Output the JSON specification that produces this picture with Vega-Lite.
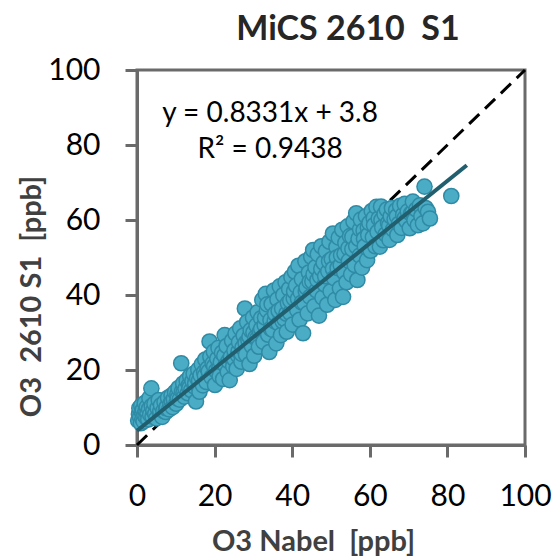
{
  "$schema": "https://vega.github.io/schema/vega-lite/v6.json",
  "autosize": "none",
  "width": 388,
  "height": 375,
  "padding": {"left": 137, "top": 70, "right": 31, "bottom": 111},
  "background": "white",
  "config": {
    "view": {"stroke": "#6a6a6a", "strokeWidth": 3},
    "font": "Lato",
    "axis": {
      "grid": false,
      "domainColor": "#6a6a6a",
      "domainWidth": 3,
      "tickColor": "#6a6a6a",
      "tickWidth": 3,
      "tickSize": 12,
      "labelFont": "Lato",
      "labelFontSize": 30,
      "labelColor": "#000000",
      "labelFlush": false,
      "labelOverlap": false,
      "titleFont": "Lato",
      "titleFontSize": 29,
      "titleFontWeight": "bold",
      "titleColor": "#404040",
      "titleBaseline": "alphabetic"
    }
  },
  "title": {
    "text": "MiCS 2610\u00a0 S1",
    "font": "Lato",
    "fontSize": 34,
    "fontWeight": "bold",
    "color": "#262626",
    "anchor": "middle",
    "frame": "group",
    "offset": 8,
    "dx": 17
  },
  "datasets": {
    "points": [
      {"x":0.3,"y":6.5},{"x":0.5,"y":8.2},{"x":0.6,"y":9.8},{"x":0.8,"y":7.4},{"x":1.0,"y":5.8},{"x":1.1,"y":10.5},{"x":1.2,"y":8.9},{"x":1.4,"y":7.0},{"x":1.5,"y":9.4},{"x":1.7,"y":6.3},{"x":1.9,"y":8.0},{"x":2.0,"y":11.2},{"x":2.2,"y":9.0},{"x":2.4,"y":7.3},{"x":2.5,"y":10.1},{"x":2.7,"y":8.5},{"x":2.9,"y":6.8},{"x":3.1,"y":9.6},{"x":3.2,"y":12.5},{"x":3.4,"y":8.1},{"x":3.7,"y":15.1},{"x":3.8,"y":10.4},{"x":4.0,"y":7.6},{"x":4.2,"y":9.2},{"x":4.5,"y":11.0},{"x":4.7,"y":8.3},
      {"x":5.0,"y":7.1},{"x":5.3,"y":9.9},{"x":5.6,"y":12.0},{"x":5.9,"y":8.4},{"x":6.0,"y":9.0},{"x":6.2,"y":10.6},{"x":6.5,"y":7.5},{"x":6.8,"y":9.1},{"x":7.1,"y":11.4},{"x":7.4,"y":8.8},{"x":7.5,"y":9.8},{"x":7.7,"y":10.2},{"x":8.0,"y":12.6},{"x":8.3,"y":9.5},{"x":8.6,"y":11.0},{"x":8.9,"y":13.2},{"x":9.0,"y":11.5},{"x":9.2,"y":10.1},{"x":9.5,"y":12.3},{"x":9.8,"y":14.1},
      {"x":10.1,"y":11.0},{"x":10.4,"y":13.5},{"x":10.5,"y":12.4},{"x":10.7,"y":15.2},{"x":11.0,"y":12.1},{"x":11.4,"y":21.8},{"x":11.6,"y":14.3},{"x":11.9,"y":16.4},{"x":12.0,"y":14.0},{"x":12.2,"y":12.9},{"x":12.5,"y":15.0},{"x":12.8,"y":17.2},{"x":13.1,"y":13.8},{"x":13.4,"y":16.0},{"x":13.5,"y":15.2},{"x":13.7,"y":18.4},{"x":14.0,"y":14.6},{"x":14.3,"y":17.1},{"x":14.6,"y":19.0},{"x":14.9,"y":15.5},
      {"x":15.0,"y":16.5},{"x":15.2,"y":11.6},{"x":15.5,"y":17.8},{"x":15.8,"y":20.1},{"x":16.0,"y":17.2},{"x":16.1,"y":14.2},{"x":16.4,"y":18.6},{"x":16.7,"y":21.5},{"x":17.0,"y":15.9},{"x":17.3,"y":19.4},{"x":17.5,"y":18.5},{"x":17.6,"y":22.8},{"x":17.9,"y":16.8},{"x":18.2,"y":20.4},{"x":18.5,"y":19.6},{"x":18.7,"y":27.6},{"x":18.9,"y":23.6},{"x":19.2,"y":18.1},{"x":19.5,"y":21.7},{"x":19.8,"y":24.9},{"x":19.9,"y":21.0},
      {"x":20.1,"y":16.0},{"x":20.4,"y":19.8},{"x":20.7,"y":23.0},{"x":21.0,"y":25.9},{"x":21.2,"y":20.5},{"x":21.3,"y":18.4},{"x":21.6,"y":22.1},{"x":21.9,"y":24.6},{"x":22.2,"y":17.6},{"x":22.5,"y":23.8},{"x":22.6,"y":29.3},{"x":22.8,"y":21.2},{"x":23.1,"y":26.4},{"x":23.4,"y":19.5},{"x":23.6,"y":22.4},{"x":23.9,"y":17.3},{"x":24.2,"y":23.5},{"x":24.5,"y":27.8},{"x":24.8,"y":21.0},
      {"x":25.0,"y":23.0},{"x":25.1,"y":25.2},{"x":25.4,"y":29.7},{"x":25.7,"y":20.3},{"x":26.0,"y":23.9},{"x":26.2,"y":25.0},{"x":26.3,"y":27.4},{"x":26.6,"y":31.1},{"x":26.9,"y":22.2},{"x":27.0,"y":24.3},{"x":27.2,"y":26.0},{"x":27.5,"y":29.2},{"x":27.8,"y":36.4},{"x":28.0,"y":27.2},{"x":28.1,"y":24.1},{"x":28.4,"y":32.8},{"x":28.7,"y":28.0},{"x":29.0,"y":21.6},{"x":29.0,"y":28.9},{"x":29.3,"y":30.6},{"x":29.6,"y":26.4},{"x":29.9,"y":34.0},
      {"x":30.0,"y":30.0},{"x":30.2,"y":23.8},{"x":30.5,"y":28.6},{"x":30.8,"y":31.9},{"x":31.0,"y":28.4},{"x":31.1,"y":35.4},{"x":31.4,"y":26.2},{"x":31.7,"y":30.3},{"x":32.0,"y":33.8},{"x":32.0,"y":31.0},{"x":32.3,"y":38.7},{"x":32.6,"y":27.5},{"x":32.9,"y":32.0},{"x":33.0,"y":34.0},{"x":33.2,"y":40.3},{"x":33.5,"y":35.9},{"x":33.6,"y":37.5},{"x":33.8,"y":29.4},{"x":34.1,"y":24.8},{"x":34.4,"y":33.3},{"x":34.5,"y":31.0},{"x":34.7,"y":37.6},
      {"x":35.0,"y":30.7},{"x":35.3,"y":41.2},{"x":35.5,"y":33.0},{"x":35.6,"y":35.0},{"x":35.9,"y":27.1},{"x":36.2,"y":38.8},{"x":36.5,"y":32.4},{"x":36.5,"y":35.8},{"x":36.8,"y":42.3},{"x":37.1,"y":29.3},{"x":37.4,"y":36.4},{"x":37.5,"y":33.0},{"x":37.7,"y":40.0},{"x":38.0,"y":33.6},{"x":38.3,"y":43.4},{"x":38.5,"y":35.0},{"x":38.6,"y":30.2},{"x":38.9,"y":37.8},{"x":39.2,"y":41.6},{"x":39.5,"y":35.2},{"x":39.5,"y":38.5},{"x":39.8,"y":44.8},
      {"x":40.1,"y":32.1},{"x":40.4,"y":39.1},{"x":40.5,"y":41.0},{"x":40.7,"y":46.2},{"x":41.0,"y":42.5},{"x":41.3,"y":36.0},{"x":41.5,"y":39.0},{"x":41.6,"y":47.8},{"x":41.9,"y":33.4},{"x":42.2,"y":40.7},{"x":42.5,"y":44.2},{"x":42.5,"y":38.0},{"x":42.8,"y":29.8},{"x":43.1,"y":37.9},{"x":43.4,"y":49.0},{"x":43.5,"y":41.0},{"x":43.7,"y":42.0},{"x":44.0,"y":35.1},{"x":44.3,"y":46.0},{"x":44.5,"y":43.5},{"x":44.6,"y":39.5},{"x":44.9,"y":50.2},
      {"x":45.2,"y":43.6},{"x":45.4,"y":52.0},{"x":45.5,"y":45.5},{"x":45.7,"y":37.0},{"x":46.0,"y":47.4},{"x":46.3,"y":41.2},{"x":46.5,"y":44.0},{"x":46.6,"y":50.9},{"x":46.9,"y":34.5},{"x":47.2,"y":45.0},{"x":47.5,"y":53.0},{"x":47.5,"y":47.0},{"x":47.8,"y":39.3},{"x":48.1,"y":48.6},{"x":48.4,"y":42.8},{"x":48.5,"y":45.0},{"x":48.7,"y":51.7},{"x":49.0,"y":37.4},{"x":49.3,"y":46.3},{"x":49.5,"y":49.0},{"x":49.6,"y":54.2},{"x":49.9,"y":41.0},
      {"x":50.2,"y":49.6},{"x":50.5,"y":56.4},{"x":50.5,"y":47.0},{"x":50.8,"y":44.5},{"x":51.1,"y":38.7},{"x":51.4,"y":52.8},{"x":51.5,"y":50.0},{"x":51.7,"y":47.2},{"x":52.0,"y":55.3},{"x":52.3,"y":41.8},{"x":52.5,"y":48.0},{"x":52.6,"y":50.6},{"x":52.9,"y":57.4},{"x":53.1,"y":39.5},{"x":53.4,"y":46.0},{"x":53.5,"y":51.0},{"x":53.7,"y":53.9},{"x":54.0,"y":43.4},{"x":54.3,"y":58.3},{"x":54.5,"y":52.5},{"x":54.6,"y":49.1},{"x":54.9,"y":55.7},
      {"x":55.2,"y":45.5},{"x":55.5,"y":52.2},{"x":55.5,"y":55.5},{"x":55.8,"y":59.6},{"x":56.1,"y":48.0},{"x":56.5,"y":61.8},{"x":56.5,"y":53.0},{"x":56.8,"y":44.0},{"x":57.1,"y":55.0},{"x":57.4,"y":50.5},{"x":57.5,"y":57.5},{"x":57.7,"y":60.1},{"x":58.0,"y":47.3},{"x":58.4,"y":57.2},{"x":58.5,"y":55.0},{"x":58.7,"y":53.0},{"x":59.0,"y":61.0},{"x":59.3,"y":49.3},{"x":59.5,"y":58.0},{"x":59.6,"y":56.0},{"x":59.9,"y":59.2},
      {"x":60.2,"y":51.8},{"x":60.5,"y":62.4},{"x":60.8,"y":55.4},{"x":61.0,"y":60.5},{"x":61.1,"y":58.6},{"x":61.4,"y":53.0},{"x":61.7,"y":63.5},{"x":62.0,"y":56.8},{"x":62.3,"y":60.4},{"x":62.6,"y":52.9},{"x":62.9,"y":63.6},{"x":63.0,"y":60.0},{"x":63.2,"y":58.0},{"x":63.5,"y":54.6},{"x":63.8,"y":61.6},{"x":64.1,"y":56.2},{"x":64.4,"y":62.8},{"x":64.7,"y":59.2},
      {"x":65.0,"y":58.5},{"x":65.1,"y":54.7},{"x":65.4,"y":61.0},{"x":65.7,"y":63.2},{"x":66.0,"y":57.5},{"x":66.4,"y":60.2},{"x":66.8,"y":62.6},{"x":67.0,"y":61.0},{"x":67.1,"y":56.0},{"x":67.5,"y":59.0},{"x":67.8,"y":63.8},{"x":68.2,"y":57.9},{"x":68.6,"y":61.4},{"x":69.0,"y":64.3},{"x":69.0,"y":60.5},{"x":69.4,"y":59.8},{"x":69.8,"y":62.3},
      {"x":70.3,"y":57.8},{"x":70.6,"y":61.7},{"x":71.0,"y":62.0},{"x":71.1,"y":64.9},{"x":71.5,"y":60.0},{"x":72.0,"y":62.8},{"x":72.4,"y":58.6},{"x":72.9,"y":63.9},{"x":73.3,"y":61.0},{"x":73.7,"y":59.1},{"x":74.1,"y":68.9},{"x":74.4,"y":63.2},{"x":75.0,"y":62.2},{"x":75.5,"y":60.4},
      {"x":81.0,"y":66.4}
    ],
    "identity": [{"x":0,"y":0},{"x":100,"y":100}],
    "trend": [{"x":0,"y":3.8},{"x":85,"y":74.6}],
    "equation": [{"label": "y = 0.8331x + 3.8"}],
    "rsquared": [{"label": "R² = 0.9438"}]
  },
  "layer": [
    {
      "data": {"name": "identity"},
      "mark": {"type": "line", "color": "#000000", "strokeWidth": 3, "strokeDash": [14, 8]},
      "encoding": {
        "x": {
          "field": "x",
          "type": "quantitative",
          "scale": {"domain": [0, 100], "nice": false},
          "axis": {
            "values": [0, 20, 40, 60, 80, 100],
            "labelPadding": 24,
            "title": "O3 Nabel\u00a0 [ppb]",
            "titleX": 176,
            "titleY": 105
          }
        },
        "y": {
          "field": "y",
          "type": "quantitative",
          "scale": {"domain": [0, 100], "nice": false},
          "axis": {
            "values": [0, 20, 40, 60, 80, 100],
            "labelPadding": 25,
            "title": "O3\u00a0 2610 S1\u00a0 [ppb]",
            "titleX": -97,
            "titleY": 226
          }
        }
      }
    },
    {
      "data": {"name": "points"},
      "mark": {"type": "circle", "size": 230, "fill": "#4BACC6", "stroke": "#2F8BA5", "strokeWidth": 1.5, "opacity": 1, "fillOpacity": 1},
      "encoding": {
        "x": {"field": "x", "type": "quantitative"},
        "y": {"field": "y", "type": "quantitative"}
      }
    },
    {
      "data": {"name": "trend"},
      "mark": {"type": "line", "color": "#215E6E", "strokeWidth": 4},
      "encoding": {
        "x": {"field": "x", "type": "quantitative"},
        "y": {"field": "y", "type": "quantitative"}
      }
    },
    {
      "data": {"name": "equation"},
      "mark": {"type": "text", "font": "Lato", "fontSize": 28, "fill": "#000000", "align": "center", "baseline": "alphabetic"},
      "encoding": {
        "x": {"datum": 34.3, "type": "quantitative"},
        "y": {"datum": 86.1, "type": "quantitative"},
        "text": {"field": "label", "type": "nominal"}
      }
    },
    {
      "data": {"name": "rsquared"},
      "mark": {"type": "text", "font": "Lato", "fontSize": 28, "fill": "#000000", "align": "center", "baseline": "alphabetic"},
      "encoding": {
        "x": {"datum": 34.3, "type": "quantitative"},
        "y": {"datum": 76.5, "type": "quantitative"},
        "text": {"field": "label", "type": "nominal"}
      }
    }
  ]
}
